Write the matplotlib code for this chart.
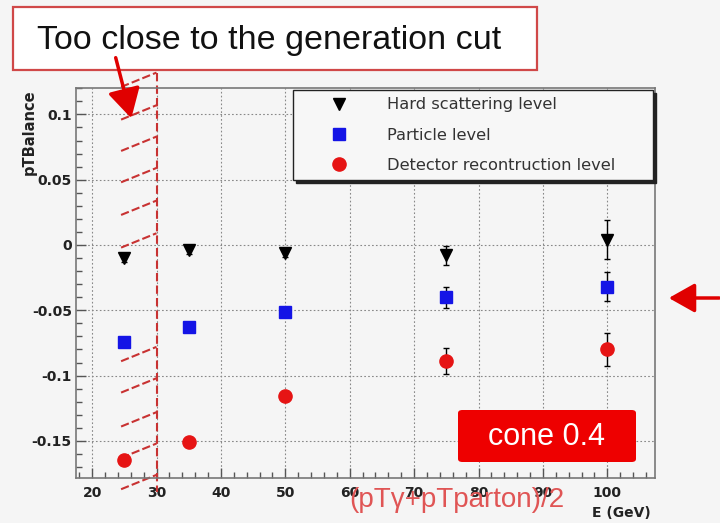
import matplotlib
matplotlib.use('Agg')
import matplotlib.pyplot as plt
from matplotlib.patches import Rectangle, FancyArrowPatch, FancyBboxPatch
from matplotlib.ticker import MultipleLocator

plt.rcParams['font.family'] = ['Liberation Sans', 'DejaVu Sans']

# data
energy = [25, 35, 50, 75, 100]
hard_val = [-0.010, -0.004, -0.006, -0.008, 0.004]
hard_err = [0.003, 0.003, 0.003, 0.007, 0.015]
part_val = [-0.074, -0.063, -0.051, -0.040, -0.032]
part_err = [0.003, 0.003, 0.003, 0.008, 0.011]
det_val = [-0.165, -0.151, -0.116, -0.089, -0.080]
det_err = [0.003, 0.003, 0.003, 0.010, 0.013]
labels = ['Hard scattering level', 'Particle level', 'Detector recontruction level']
# cut region: dashed line at E=30, hatch strokes (upper end y values)
cut_e = 30
hatch_top = [0.132, 0.107, 0.083, 0.059, 0.034, 0.009,
             -0.078, -0.102, -0.128, -0.152, -0.176]
# fig config
W, H = 720, 523
bg = '#f5f5f5'
cut_red = '#c83232'
root_font = 'DejaVu Sans'


def fpx(x, y):
    # pixel position -> figure fraction
    return x/W, 1-y/H


fig = plt.figure(figsize=(W/100, H/100), dpi=100, facecolor=bg)
ax = fig.add_axes([76/W, 1-478/H, 579/W, 390/H], facecolor=bg)
ax.set_xlim(17.5, 107.4)
ax.set_ylim(-0.1784, 0.1202)

ax.xaxis.set_major_locator(MultipleLocator(10))
ax.xaxis.set_minor_locator(MultipleLocator(2))
ax.yaxis.set_major_locator(MultipleLocator(0.05))
ax.yaxis.set_minor_locator(MultipleLocator(0.01))
ax.set_xticks([20, 30, 40, 50, 60, 70, 80, 90, 100])
ax.set_yticks([-0.15, -0.1, -0.05, 0, 0.05, 0.1])
ax.set_yticklabels(['-0.15', '-0.1', '-0.05', '0', '0.05', '0.1'])
ax.tick_params(which='both', direction='in', top=False, right=False, color='#555555')
ax.tick_params(which='major', length=7, width=1)
ax.tick_params(which='minor', length=4, width=1)
ax.tick_params(axis='x', pad=6)
ax.tick_params(axis='y', pad=3)
for lab in ax.get_xticklabels() + ax.get_yticklabels():
    lab.set_fontfamily(root_font)
    lab.set_fontweight('bold')
    lab.set_fontsize(10)
    lab.set_color('#222222')
for sp in ax.spines.values():
    sp.set_color('#777777')
    sp.set_linewidth(1.2)
ax.grid(True, which='major', linestyle=(0, (1.5, 2)), color='#888888', linewidth=0.8)
ax.set_axisbelow(True)

# cut line and hatch
ax.plot([cut_e, cut_e], [0.132, -0.189], color=cut_red, lw=1.5,
        linestyle=(0, (4, 2)), clip_on=False, zorder=2)
for yt in hatch_top:
    ax.plot([24.5, cut_e], [yt-0.011, yt], color=cut_red, lw=1.5,
            linestyle=(0, (4, 1.5)), clip_on=False, zorder=2)

# error bars then markers
ax.errorbar(energy, hard_val, yerr=hard_err, fmt='none', ecolor='k', elinewidth=1, capsize=2, zorder=3)
ax.errorbar(energy, part_val, yerr=part_err, fmt='none', ecolor='k', elinewidth=1, capsize=2, zorder=3)
ax.errorbar(energy, det_val, yerr=det_err, fmt='none', ecolor='k', elinewidth=1, capsize=2, zorder=3)
ax.plot(energy, hard_val, 'v', color='k', ms=9, ls='none', label=labels[0], zorder=4)
ax.plot(energy, part_val, 's', color='#1414e6', ms=9, ls='none', label=labels[1], zorder=4)
ax.plot(energy, det_val, 'o', color='#e61414', ms=9.5, ls='none', label=labels[2], zorder=4)

leg = ax.legend(loc='upper left', bbox_to_anchor=(0.375, 0.772, 0.622, 0.223), mode='expand',
                prop={'family': root_font, 'size': 11.7},
                frameon=True, fancybox=False, shadow={'color': '#222222', 'alpha': 1},
                borderpad=0.45, handlelength=4.8, handletextpad=0.55, labelspacing=0.95,
                borderaxespad=0, numpoints=1)
leg.get_frame().set_edgecolor('#222222')
leg.get_frame().set_linewidth(1)
leg.get_frame().set_facecolor('#f7f7f7')
leg.get_frame().set_alpha(1)
for t in leg.get_texts():
    t.set_color('#333333')

# axis titles (ROOT style)
fig.text(*fpx(29, 89), 'pTBalance', rotation=90, ha='center', va='top', family=root_font,
         fontsize=10.5, fontweight='bold', color='#222222')
fig.text(*fpx(621, 513), 'E (GeV)', ha='center', va='center', family=root_font,
         fontsize=10, fontweight='bold', color='#222222')
fig.text(*fpx(457, 500), '(pT\u03b3+pTparton)/2', ha='center', va='center',
         fontsize=20, color='#e05555')

# annotation box at top
x0, y0 = fpx(13, 70)
x1, y1 = fpx(537, 7)
fig.patches.append(Rectangle((x0, y0), x1-x0, y1-y0, transform=fig.transFigure,
                             facecolor='white', edgecolor='#d04848', lw=1.6, zorder=5))
fig.text(*fpx(37, 40), 'Too close to the generation cut', ha='left', va='center',
         fontsize=24.5, color='#111111', zorder=6)
fig.patches.append(FancyArrowPatch(fpx(115, 55), fpx(132, 121), transform=fig.transFigure,
                                   arrowstyle='-|>,head_length=0.9,head_width=0.5',
                                   mutation_scale=20, color='#e00000', lw=2.5, zorder=7))
# right arrow
fig.patches.append(FancyArrowPatch(fpx(722, 298), fpx(666, 298), transform=fig.transFigure,
                                   arrowstyle='-|>,head_length=0.8,head_width=0.45',
                                   mutation_scale=20, color='#e00000', lw=2.5, zorder=7))

# cone box
bx0, by0 = fpx(458, 462)
bx1, by1 = fpx(636, 410)
fig.patches.append(FancyBboxPatch((bx0, by0), bx1-bx0, by1-by0, transform=fig.transFigure,
                                  boxstyle='round,pad=0,rounding_size=0.006',
                                  facecolor='#ee0000', edgecolor='none', zorder=5))
fig.text(*fpx(547, 437), 'cone 0.4', ha='center', va='center', fontsize=22,
         color='white', zorder=6)

fig.savefig('out.png', dpi=100, facecolor=bg)
